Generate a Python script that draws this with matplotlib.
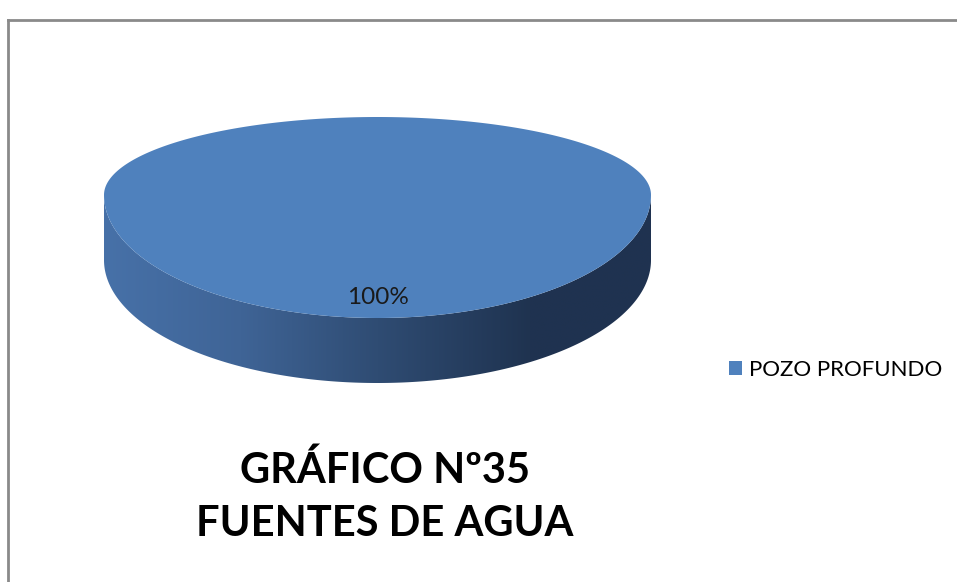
import numpy as np
import matplotlib
matplotlib.use("Agg")
import matplotlib.pyplot as plt
from matplotlib.path import Path
from matplotlib.patches import PathPatch, Patch
from matplotlib.colors import LinearSegmentedColormap
from matplotlib.lines import Line2D

categories = ["POZO PROFUNDO"]
values = [100]
colors = ["#4f81bd"]
title_lines = ["GRÁFICO Nº35", "FUENTES DE AGUA"]

W, H = 957, 582
fig = plt.figure(figsize=(W / 100, H / 100), dpi=100)
fig.patch.set_facecolor("white")

# pie axes: unit circle reshaped into a perspective ellipse
x0, x1 = 104, 651
y_top, y_bot = 117, 383
y_mid = 195.0
unit = 123.0                      # px per unit (front half)
k_back = (y_mid - y_top) / unit   # back half compression
thick = (y_bot - y_mid) / unit - 1.0
ax = fig.add_axes([x0 / W, 1 - y_bot / H, (x1 - x0) / W, (y_bot - y_top) / H])
ax.axis("off")

# side band of the 3D pie
t = np.linspace(np.pi, 2 * np.pi, 300)
xs = np.cos(t)
ys = np.sin(t)
verts = list(zip(xs, ys)) + list(zip(xs[::-1], ys[::-1] - thick))
side_path = Path(verts + [verts[0]], closed=True)
patch = PathPatch(side_path, facecolor="none", edgecolor="none")
ax.add_patch(patch)
cmap = LinearSegmentedColormap.from_list(
    "side",
    [(0.0, "#4771a8"), (0.25, "#3f6496"), (0.5, "#2f4c73"), (0.78, "#1f3350"), (1.0, "#1f3250")],
)
grad = np.linspace(0, 1, 256).reshape(1, -1)
im = ax.imshow(grad, extent=[-1, 1, -1 - thick, 0], aspect="auto", cmap=cmap,
               interpolation="bilinear", zorder=1)
im.set_clip_path(patch)

wedges, texts, autotexts = ax.pie(
    values, colors=colors, startangle=90, radius=1, center=(0, 0),
    autopct="%1.0f%%", pctdistance=(y_mid - 297) / -unit,
    textprops=dict(fontsize=17.5, color="#1a1a1a", family="Lato"),
    wedgeprops=dict(linewidth=0), frame=False,
)
# reshape each wedge: compress the back half for perspective
for w in wedges:
    th = np.radians(np.linspace(w.theta1, w.theta2, 400))
    cx, cy = w.center
    px = cx + w.r * np.cos(th)
    py = cy + w.r * np.sin(th)
    if (w.theta2 - w.theta1) < 359.999:
        px = np.concatenate([[cx], px])
        py = np.concatenate([[cy], py])
    py = np.where(py > 0, py * k_back, py)
    pp = PathPatch(Path(np.column_stack([px, py]), closed=False),
                   facecolor=w.get_facecolor(), edgecolor="none", zorder=2)
    ax.add_patch(pp)
    w.set_visible(False)
for a in autotexts:
    a.set_zorder(3)
ax.set_aspect("auto")
ax.set_xlim(-1, 1)
ax.set_ylim(-1 - thick, k_back)

# legend
handles = [Patch(facecolor=w.get_facecolor(), edgecolor="none") for w in wedges]
fig.legend(handles, categories, loc="center left",
           bbox_to_anchor=(709 / W, 1 - 370 / H), frameon=False,
           handlelength=0.6, handleheight=0.6, handletextpad=0.3,
           prop=dict(family="Lato", size=16))

# title
fig.text(385 / W, 1 - 470 / H, title_lines[0], ha="center", va="center",
         fontsize=30, fontweight="bold", family="Lato", color="black")
fig.text(385 / W, 1 - 524 / H, title_lines[1], ha="center", va="center",
         fontsize=30, fontweight="bold", family="Lato", color="black")

# chart border (top and left visible)
fig.add_artist(Line2D([8 / W, 8 / W], [0, 1 - 20 / H], transform=fig.transFigure,
                      color="#8a8a8a", linewidth=2))
fig.add_artist(Line2D([8 / W, 1], [1 - 20 / H, 1 - 20 / H], transform=fig.transFigure,
                      color="#8a8a8a", linewidth=2))

fig.savefig("out.png", dpi=100, facecolor="white")
